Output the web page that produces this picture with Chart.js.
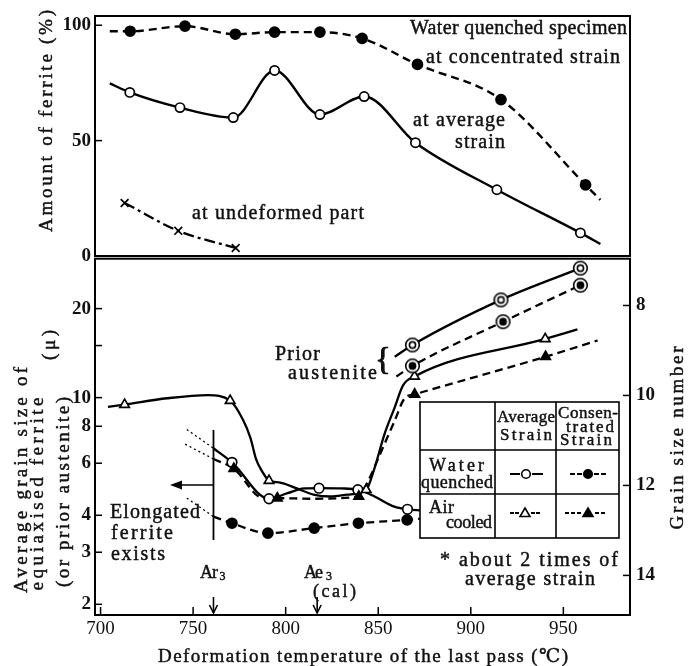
<!DOCTYPE html>
<html><head><meta charset="utf-8">
<script src="https://cdn.jsdelivr.net/npm/chart.js@4.4.1/dist/chart.umd.min.js"></script>
<style>
html,body{margin:0;padding:0;background:#fff;}
#wrap{position:relative;width:694px;height:666px;overflow:hidden;background:#fff;}
canvas{position:absolute;left:0;}
#cTop{top:0;}
#cBot{top:250px;}
</style></head><body>
<div id="wrap"><canvas id="cTop" width="694" height="272"></canvas><canvas id="cBot" width="694" height="416"></canvas></div>
<script>
// ================= DATA =================
const xTicks = [700, 750, 800, 850, 900, 950];
const ferriteTicks = [0, 50, 100];
const grainTicks = [2, 3, 4, 6, 8, 10, 20];
const grainMinorTicks = [15];
const grainNumTicks = [8, 10, 12, 14];

// Top panel: amount of ferrite (%), water quenched specimen
// at concentrated strain (filled circles, dashed)
const concMarkT = [716, 745.6, 772.8, 794, 818.5, 841.3, 871.2, 916.3, 962];
const concMarkV = [97.4, 99.6, 96.1, 97.0, 97.0, 94.3, 83.0, 67.8, 30.8];
const concLineT = [705, 716, 745.6, 772.8, 794, 818.5, 841.3, 871.2, 916.3, 962, 970];
const concLineV = [97.4, 97.4, 99.6, 96.1, 97.0, 97.0, 94.3, 83.0, 67.8, 30.8, 24.3];
// at average strain (open circles, solid)
const avgMarkT = [715.8, 742.9, 771.7, 794, 818.5, 842.4, 870.1, 914.1, 959.2];
const avgMarkV = [70.9, 64.3, 60.0, 80.4, 61.3, 69.1, 49.1, 28.7, 10.0];
const avgLineT = [705, 715.8, 742.9, 771.7, 794, 818.5, 842.4, 870.1, 914.1, 959.2, 970];
const avgLineV = [74.8, 70.9, 64.3, 60.0, 80.4, 61.3, 69.1, 49.1, 28.7, 10.0, 5.2];
// at undeformed part (crosses, dash-dot)
const undefT = [713, 742, 773];
const undefV = [23.0, 10.9, 3.5];

// Bottom panel: grain size (micron), log scale
// Air cooled, average strain (open triangles, solid)
const acAvgMarkT = [713, 770, 791, 843.5, 869.6, 940.2];
const acAvgMarkD = [9.47, 9.77, 5.24, 4.88, 11.8, 15.8];
const acAvgLineT = [704, 713, 736, 758, 770, 777, 781, 784, 787.5, 791, 797, 806, 815, 824.5, 833.5, 843.5, 848, 853.3, 858.7, 863.4, 869.6, 940.2, 957.6];
const acAvgLineD = [9.3, 9.47, 9.95, 10.2, 9.77, 8.4, 7.3, 6.2, 5.6, 5.24, 5.16, 4.93, 4.70, 4.63, 4.70, 4.88, 5.78, 7.5, 9.2, 11.0, 11.8, 15.8, 17.0];
// Air cooled, concentrated strain (filled triangles, dashed)
const acConMarkT = [772, 795.5, 839.5, 869.7, 940.4];
const acConMarkD = [5.75, 4.57, 4.63, 10.26, 13.75];
const acConLineT = [761, 772, 788, 795.5, 815, 839.5, 844.4, 851.6, 858.7, 864.3, 869.7, 940.4, 968.5];
const acConLineD = [6.2, 5.75, 4.57, 4.57, 4.55, 4.63, 5.2, 6.57, 8.3, 9.95, 10.26, 13.75, 15.6];
// Water quenched, average strain (open circles, solid)
const wqAvgMarkT = [771, 791, 818, 839, 865.8];
const wqAvgMarkD = [6.04, 4.55, 4.94, 4.88, 4.19];
const wqAvgLineT = [761, 771, 791, 801, 810, 818, 830, 839, 848, 858.7, 865.8, 873.4];
const wqAvgLineD = [6.74, 6.04, 4.55, 4.75, 4.93, 4.94, 4.93, 4.88, 4.63, 4.28, 4.19, 4.15];
// Water quenched, concentrated strain (filled circles, dashed)
const wqConMarkT = [771, 790.4, 815.4, 839.3, 865.6];
const wqConMarkD = [3.76, 3.48, 3.62, 3.76, 3.86];
const wqConLineT = [761, 771, 790.4, 815.4, 839.3, 865.6, 873.4];
const wqConLineD = [3.96, 3.76, 3.48, 3.62, 3.76, 3.86, 3.90];
// dotted extensions below Ar3
const extWqAvgT = [746.6, 761], extWqAvgD = [7.8, 6.74];
const extAcConT = [745.7, 761], extAcConD = [6.96, 6.2];
const extWqConT = [746.6, 761], extWqConD = [4.57, 3.96];
// Prior austenite, water quenched average (double circle open, solid)
const paAvgMarkT = [868.5, 916.3, 959.2];
const paAvgMarkD = [15.07, 21.4, 27.4];
const paAvgLineT = [858.9, 868.5, 916.3, 959.2];
const paAvgLineD = [13.75, 15.07, 21.4, 27.4];
// Prior austenite, water quenched concentrated (double circle filled, dashed)
const paConMarkT = [868.5, 917.4, 959.2];
const paConMarkD = [12.8, 18.06, 24.0];
const paConLineT = [859.8, 868.5, 917.4, 959.2];
const paConLineD = [11.78, 12.8, 18.06, 24.0];

const ar3T = 761, ae3T = 817;

// ================= HELPERS =================
const FAM = '"Liberation Serif", "DejaVu Serif", serif';
Chart.defaults.font.family = FAM;
Chart.defaults.color = '#111';
const pts = (T, V) => T.map((t, i) => ({x: t, y: V[i]}));
function lineDS(T, V, dash, w) {
  return {data: pts(T, V), borderColor: '#000', borderWidth: w || 2.3, borderDash: dash || [],
    pointRadius: 0, pointHoverRadius: 0, cubicInterpolationMode: 'monotone', fill: false, order: 2};
}
function markDS(T, V, style, filled, r) {
  return {data: pts(T, V), showLine: false, pointStyle: style, pointRadius: r, pointHoverRadius: r,
    pointBackgroundColor: filled ? '#000' : '#fff', pointBorderColor: '#000', pointBorderWidth: 1.7, order: 1};
}
function mkDouble(filled) {
  const c = document.createElement('canvas'); c.width = c.height = 17;
  const g = c.getContext('2d'); g.lineWidth = 1.6; g.strokeStyle = '#000'; g.fillStyle = '#fff';
  g.beginPath(); g.arc(8.5, 8.5, 6.8, 0, 2 * Math.PI); g.fill(); g.stroke();
  g.beginPath(); g.arc(8.5, 8.5, 3.1, 0, 2 * Math.PI);
  if (filled) { g.fillStyle = '#000'; g.fill(); }
  g.stroke();
  return c;
}
function txt(ctx, s, x, y, o) {
  o = o || {};
  ctx.save();
  ctx.font = o.font || ('19px ' + FAM);
  ctx.fillStyle = '#111'; ctx.strokeStyle = '#111'; ctx.textBaseline = 'middle'; ctx.textAlign = 'left';
  const hasLS = ('letterSpacing' in ctx);
  if (hasLS) ctx.letterSpacing = '0px';
  const w0 = ctx.measureText(s).width;
  let ls = 0;
  if (o.w && s.length > 1 && hasLS) ls = (o.w - w0) / (s.length - 1);
  if (hasLS) ctx.letterSpacing = ls + 'px';
  const total = w0 + ls * (s.length - 1);
  ctx.translate(x, y);
  if (o.rot) ctx.rotate(o.rot);
  let sx = 0; const al = o.align || 'left';
  if (al === 'center') sx = -total / 2; else if (al === 'right') sx = -total;
  ctx.fillText(s, sx, 0);
  ctx.lineWidth = (o.heavy === undefined) ? 0.45 : o.heavy;
  if (ctx.lineWidth > 0) ctx.strokeText(s, sx, 0);
  ctx.restore();
}
function seg(ctx, x1, y1, x2, y2) { ctx.beginPath(); ctx.moveTo(x1, y1); ctx.lineTo(x2, y2); ctx.stroke(); }
function fixW(w) { return s => { s.width = w; s.paddingTop = 0; s.paddingBottom = 0; }; }
function fixH(h) { return s => { s.height = h; s.paddingLeft = 0; s.paddingRight = 0; }; }
const tickFontY = {size: 19, weight: 'bold', family: FAM};
const tickFontX = {size: 19, family: FAM};
const UP = -Math.PI / 2;

// ================= TOP CHART =================
const topDecor = {
  id: 'topDecor',
  afterDraw(chart) {
    const ctx = chart.ctx, a = chart.chartArea, sy = chart.scales.y;
    ctx.save();
    ctx.strokeStyle = '#000'; ctx.lineWidth = 2;
    ctx.strokeRect(a.left, a.top, a.right - a.left, a.bottom - a.top);
    ctx.lineWidth = 1.5;
    ferriteTicks.forEach(v => { const y = sy.getPixelForValue(v); seg(ctx, a.left, y, a.left + 7, y); });
    ctx.restore();
    const F20 = '20px ' + FAM;
    txt(ctx, 'Amount of ferrite (%)', 47, 121, {w: 222, rot: UP, align: 'center'});
    txt(ctx, 'Water quenched specimen', 410, 29, {w: 217, font: F20});
    txt(ctx, 'at concentrated strain', 426, 58, {w: 194, font: F20});
    txt(ctx, 'at average', 413, 121, {w: 92, font: F20});
    txt(ctx, 'strain', 505, 143, {w: 50, align: 'right', font: F20});
    txt(ctx, 'at undeformed part', 192, 214, {w: 172, font: F20});
  }
};
new Chart(document.getElementById('cTop'), {
  type: 'line',
  data: {datasets: [
    markDS(concMarkT, concMarkV, 'circle', true, 5),
    markDS(avgMarkT, avgMarkV, 'circle', false, 4.6),
    markDS(undefT, undefV, 'crossRot', false, 5.5),
    lineDS(concLineT, concLineV, [8, 5], 2.4),
    lineDS(avgLineT, avgLineV, [], 2.4),
    lineDS(undefT, undefV, [11, 4, 3, 4], 2.3)
  ]},
  options: {
    responsive: false, animation: false, events: [],
    layout: {padding: {top: 16, right: 64, bottom: 16, left: 0}},
    plugins: {legend: {display: false}, tooltip: {enabled: false}},
    scales: {
      x: {type: 'linear', min: 697, max: 986, display: false},
      y: {type: 'linear', min: 0, max: 104, position: 'left',
        afterBuildTicks: s => { s.ticks = ferriteTicks.map(v => ({value: v})); },
        afterFit: fixW(95),
        grid: {display: false, drawTicks: false}, border: {display: false},
        ticks: {font: tickFontY, padding: 4, color: '#111'}}
    }
  },
  plugins: [topDecor]
});

// ================= BOTTOM CHART =================
const OY = 250;
function drawMark(ctx, kind, x, y) {
  ctx.save(); ctx.lineWidth = 1.6; ctx.strokeStyle = '#000';
  ctx.beginPath();
  if (kind[1] === 'c') ctx.arc(x, y, 4.3, 0, 2 * Math.PI);
  else { ctx.moveTo(x, y - 5); ctx.lineTo(x + 5, y + 3.5); ctx.lineTo(x - 5, y + 3.5); ctx.closePath(); }
  ctx.fillStyle = kind[0] === 'f' ? '#000' : '#fff'; ctx.fill(); ctx.stroke();
  ctx.restore();
}
const botDecor = {
  id: 'botDecor',
  afterDraw(chart) {
    const ctx = chart.ctx, a = chart.chartArea, sx = chart.scales.x, sy = chart.scales.y, sn = chart.scales.yN;
    const Y = v => v - OY;
    ctx.save();
    ctx.strokeStyle = '#000'; ctx.fillStyle = '#000'; ctx.lineWidth = 2;
    ctx.strokeRect(a.left, a.top, a.right - a.left, a.bottom - a.top);
    ctx.lineWidth = 1.5;
    [...grainTicks, ...grainMinorTicks].forEach(v => { const y = sy.getPixelForValue(v); seg(ctx, a.left, y, a.left + 7, y); });
    grainNumTicks.forEach(v => { const y = sn.getPixelForValue(v); seg(ctx, a.right - 7, y, a.right, y); });
    xTicks.forEach(v => { const x = sx.getPixelForValue(v); seg(ctx, x, a.bottom, x, a.bottom - 8); });
    // Ar3 line and left arrow (elongated ferrite region)
    const xa = sx.getPixelForValue(ar3T), xe = sx.getPixelForValue(ae3T);
    ctx.lineWidth = 1.8;
    seg(ctx, xa, Y(430), xa, Y(540));
    ctx.lineWidth = 1.6;
    seg(ctx, xa, Y(485), 180, Y(485));
    ctx.beginPath(); ctx.moveTo(170, Y(485)); ctx.lineTo(182, Y(480.5)); ctx.lineTo(182, Y(489.5)); ctx.closePath(); ctx.fill();
    // down arrows at Ar3, Ae3
    [xa, xe].forEach(x => {
      ctx.lineWidth = 1.6;
      seg(ctx, x, Y(597), x, Y(613));
      ctx.beginPath(); ctx.moveTo(x - 4, Y(605)); ctx.lineTo(x, Y(613)); ctx.lineTo(x + 4, Y(605)); ctx.stroke();
    });
    // legend table
    ctx.fillStyle = '#fff'; ctx.fillRect(420, Y(402), 199, 136);
    ctx.lineWidth = 1.6; ctx.strokeStyle = '#000';
    ctx.strokeRect(420, Y(402), 199, 136);
    seg(ctx, 495, Y(402), 495, Y(538)); seg(ctx, 556, Y(402), 556, Y(538));
    seg(ctx, 420, Y(450), 619, Y(450)); seg(ctx, 420, Y(494), 619, Y(494));
    // samples
    ctx.lineWidth = 2;
    seg(ctx, 510, Y(474), 520, Y(474)); seg(ctx, 532, Y(474), 543, Y(474)); drawMark(ctx, 'oc', 526, Y(474));
    [[570, 575], [577, 582], [594, 599], [601, 606]].forEach(p => seg(ctx, p[0], Y(474), p[1], Y(474))); drawMark(ctx, 'fc', 588, Y(474));
    [[510, 514], [515, 519], [531, 535], [536, 540]].forEach(p => seg(ctx, p[0], Y(513), p[1], Y(513))); drawMark(ctx, 'ot', 525, Y(513));
    [[565, 569], [571, 575], [577, 581], [595, 599], [601, 605]].forEach(p => seg(ctx, p[0], Y(513), p[1], Y(513))); drawMark(ctx, 'ft', 588, Y(513));
    ctx.restore();

    const F17 = '17px ' + FAM, F18 = '18px ' + FAM, F19 = '19px ' + FAM, F20 = '20px ' + FAM;
    txt(ctx, 'Average', 526, Y(418), {w: 58, align: 'center', font: F17});
    txt(ctx, 'Strain', 526, Y(436), {w: 52, align: 'center', font: F17});
    txt(ctx, 'Consen-', 588, Y(414), {w: 60, align: 'center', font: F17});
    txt(ctx, 'trated', 590, Y(428), {w: 48, align: 'center', font: F17});
    txt(ctx, 'Strain', 586, Y(441), {w: 52, align: 'center', font: F17});
    txt(ctx, 'Water', 429, Y(466), {w: 55, font: F18});
    txt(ctx, 'quenched', 421, Y(483), {w: 72, font: F18});
    txt(ctx, 'Air', 429, Y(508), {w: 25, font: F18});
    txt(ctx, 'cooled', 446, Y(523), {w: 46, font: F18});
    txt(ctx, '* about 2 times of', 440, Y(561), {w: 178, font: F20});
    txt(ctx, 'average strain', 465, Y(580), {w: 130, font: F20});
    // axis titles
    txt(ctx, 'Average grain size of', 22, Y(480), {w: 226, rot: UP, align: 'center', font: F19});
    txt(ctx, 'equiaxised ferrite', 38, Y(494), {w: 193, rot: UP, align: 'center', font: F19});
    txt(ctx, '(μ)', 50, Y(345), {w: 30, rot: UP, align: 'center', font: F19});
    txt(ctx, '(or prior austenite)', 64, Y(492), {w: 190, rot: UP, align: 'center', font: F19});
    txt(ctx, 'Grain size number', 678, Y(438), {w: 183, rot: UP, align: 'center', font: F19});
    txt(ctx, 'Deformation temperature of the last pass (℃)', 363, Y(657), {w: 410, align: 'center', font: F19});
    // annotations
    txt(ctx, 'Prior', 275, Y(355), {w: 45, font: F20});
    txt(ctx, 'austenite', 288, Y(374), {w: 89, font: F20});
    txt(ctx, '{', 383, Y(362), {font: '32px ' + FAM, align: 'center', heavy: 0});
    txt(ctx, 'Elongated', 110, Y(513), {w: 90, font: F20});
    txt(ctx, 'ferrite', 111, Y(534), {w: 62, font: F20});
    txt(ctx, 'exists', 111, Y(555), {w: 54, font: F20});
    txt(ctx, 'Ar', 200, Y(573), {w: 18, font: F18});
    txt(ctx, '3', 219.5, Y(577), {font: '12px ' + FAM});
    txt(ctx, 'Ae', 304, Y(573), {w: 19, font: F18});
    txt(ctx, '3', 326, Y(577), {font: '12px ' + FAM});
    txt(ctx, '(cal)', 313, Y(592), {w: 43, font: F18});
  }
};
new Chart(document.getElementById('cBot'), {
  type: 'line',
  data: {datasets: [
    markDS(paAvgMarkT, paAvgMarkD, mkDouble(false), false, 7),
    markDS(paConMarkT, paConMarkD, mkDouble(true), true, 7),
    markDS(acAvgMarkT, acAvgMarkD, 'triangle', false, 5.5),
    markDS(acConMarkT, acConMarkD, 'triangle', true, 5.5),
    markDS(wqAvgMarkT, wqAvgMarkD, 'circle', false, 4.8),
    markDS(wqConMarkT, wqConMarkD, 'circle', true, 5),
    lineDS(paAvgLineT, paAvgLineD, [], 2.3),
    lineDS(paConLineT, paConLineD, [8, 5], 2.3),
    lineDS(acAvgLineT, acAvgLineD, [], 2.3),
    lineDS(acConLineT, acConLineD, [8, 5], 2.3),
    lineDS(wqAvgLineT, wqAvgLineD, [], 2.3),
    lineDS(wqConLineT, wqConLineD, [8, 5], 2.3),
    lineDS(extWqAvgT, extWqAvgD, [2, 3], 1.3),
    lineDS(extAcConT, extAcConD, [2, 3], 1.3),
    lineDS(extWqConT, extWqConD, [2, 3], 1.3)
  ]},
  options: {
    responsive: false, animation: false, events: [],
    layout: {padding: {top: 6, right: 0, bottom: 0, left: 0}},
    plugins: {legend: {display: false}, tooltip: {enabled: false}},
    scales: {
      x: {type: 'linear', min: 697, max: 986, position: 'bottom',
        afterBuildTicks: s => { s.ticks = xTicks.map(v => ({value: v})); },
        afterFit: fixH(51),
        grid: {display: false, drawTicks: false}, border: {display: false},
        ticks: {font: tickFontX, padding: 3, color: '#111', maxRotation: 0}},
      y: {type: 'logarithmic', min: 1.84, max: 29.5, position: 'left',
        afterBuildTicks: s => { s.ticks = grainTicks.map(v => ({value: v})); },
        afterFit: fixW(95),
        grid: {display: false, drawTicks: false}, border: {display: false},
        ticks: {font: tickFontY, padding: 4, color: '#111', callback: v => String(v)}},
      yN: {type: 'linear', min: 6.96, max: 14.88, reverse: true, position: 'right',
        afterBuildTicks: s => { s.ticks = grainNumTicks.map(v => ({value: v})); },
        afterFit: fixW(64),
        grid: {display: false, drawTicks: false}, border: {display: false},
        ticks: {font: tickFontY, padding: 6, color: '#111'}}
    }
  },
  plugins: [botDecor]
});
</script>
</body></html>
